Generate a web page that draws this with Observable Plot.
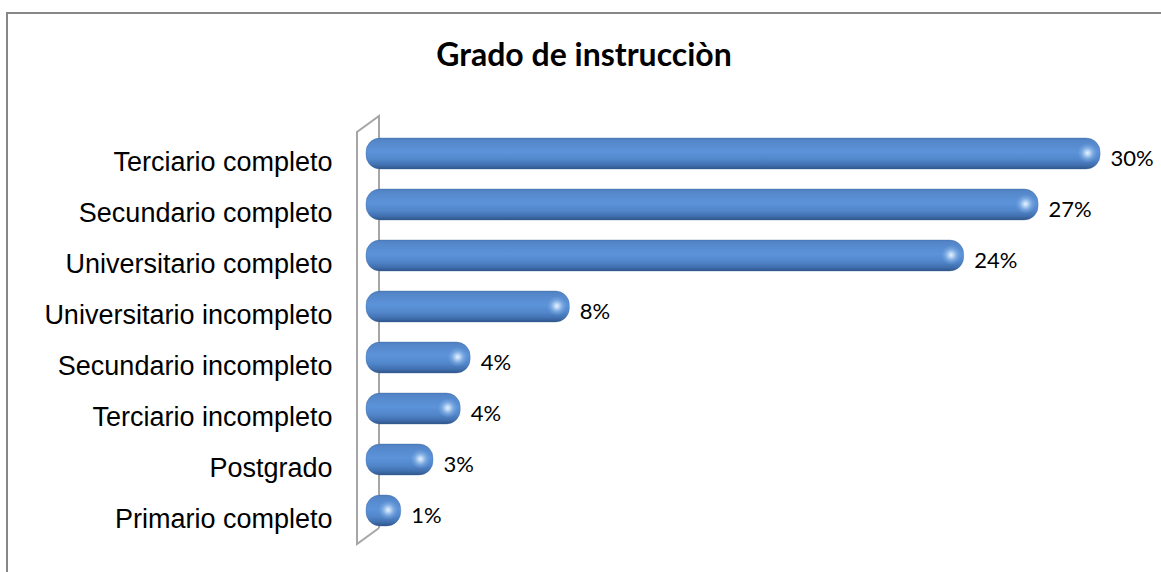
<!DOCTYPE html>
<html><head><meta charset="utf-8">
<script src="https://cdn.jsdelivr.net/npm/d3@7"></script>
<script src="https://cdn.jsdelivr.net/npm/@observablehq/plot@0.6"></script>
<style>
body{margin:0;background:#fff;}
#wrap{position:relative;width:1161px;height:572px;overflow:hidden;}
#border{position:absolute;left:6px;top:12px;width:1300px;height:700px;border:2px solid #878787;box-sizing:border-box;}
#title{position:absolute;left:0;top:35px;width:1168px;text-align:center;font:bold 32px/1.2 Lato, "Open Sans", sans-serif;color:#000;}
#chart{position:absolute;left:0;top:0;}
</style></head><body>
<div id="wrap"><div id="border"></div><div id="title"></div><div id="chart"></div></div>
<script>
const title = "Grado de instrucciòn";
const categories = ["Terciario completo","Secundario completo","Universitario completo","Universitario incompleto","Secundario incompleto","Terciario incompleto","Postgrado","Primario completo"];
const values = [29.6, 27.1, 24.1, 8.2, 4.2, 3.8, 2.7, 1.4];
const labels = ["30%","27%","24%","8%","4%","4%","3%","1%"];

const data = categories.map((c, i) => ({cat: c, value: values[i], label: labels[i]}));
document.getElementById("title").textContent = title;

const W = 1161, H = 572, mL = 366, mR = 51, mT = 124, mB = 33;

function wall(index, scales, vals, dims) {
  const g = d3.create("svg:g");
  const defs = g.append("defs");
  const lg = defs.append("linearGradient").attr("id", "barGrad").attr("x1", 0).attr("y1", 0).attr("x2", 0).attr("y2", 1);
  [[0, "#4f7fbf"], [0.12, "#5588cb"], [0.45, "#5c93d9"], [0.7, "#5186ca"], [0.88, "#406fae"], [1, "#2f5489"]]
    .forEach(([o, c]) => lg.append("stop").attr("offset", o).attr("stop-color", c));
  const rg = defs.append("radialGradient").attr("id", "hl");
  [[0, "#f4faff", 0.95], [0.3, "#c9e1fa", 0.75], [0.65, "#9cc3ef", 0.35], [1, "#8fb8ea", 0]]
    .forEach(([o, c, a]) => rg.append("stop").attr("offset", o).attr("stop-color", c).attr("stop-opacity", a));
  const x0 = scales.x(0);
  const top = dims.marginTop, bot = dims.height - dims.marginBottom;
  const pts = [[x0 + 13, bot - 11], [x0 + 13, top - 8], [x0 - 9, top + 8], [x0 - 9, bot + 5], [x0 + 13, bot - 11]];
  g.append("path").attr("d", d3.line()(pts)).attr("fill", "none").attr("stroke", "#a6a6a6").attr("stroke-width", 2);
  return g.node();
}

const chart = Plot.plot({
  width: W, height: H,
  marginLeft: mL, marginRight: mR, marginTop: mT, marginBottom: mB,
  style: {background: "transparent", overflow: "visible"},
  x: {domain: [0, 30], axis: null},
  y: {domain: categories, paddingInner: 0.4, paddingOuter: 0.2, label: null},
  marks: [
    wall,
    Plot.axisY({tickSize: 0, tickPadding: 34, fontSize: 27, fontFamily: "Liberation Sans, Arial, sans-serif", dy: 8, label: null, fill: "#000"}),
    Plot.barX(data, {x: "value", y: "cat", fill: "url(#barGrad)", rx: 14, stroke: "#3a64a0", strokeWidth: 0.6, strokeOpacity: 0.6}),
    Plot.dot(data, {x: "value", y: "cat", dx: -13, dy: -1, r: 10, fill: "url(#hl)", stroke: null}),
    Plot.text(data, {x: "value", y: "cat", text: "label", textAnchor: "start", dx: 10, dy: 5, fontSize: 22, fontFamily: "Lato, 'Open Sans', sans-serif", fill: "#000"})
  ]
});
document.getElementById("chart").appendChild(chart);
</script>
</body></html>
